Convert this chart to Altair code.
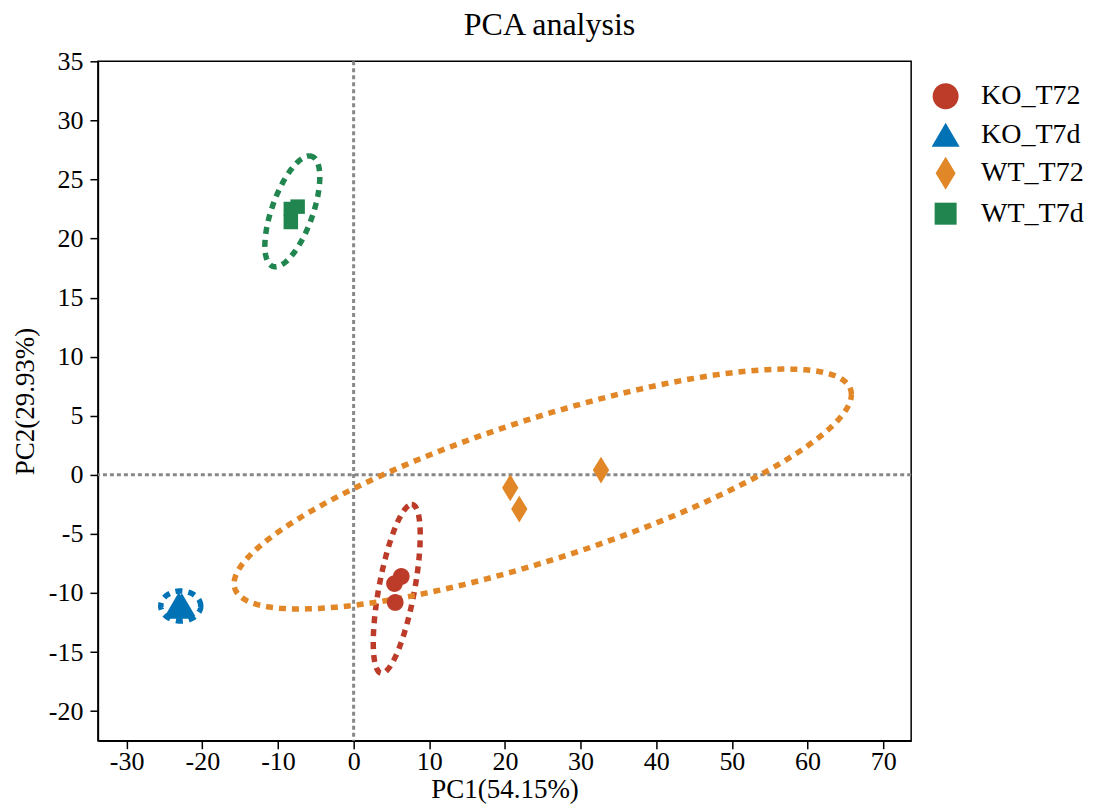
import altair as alt
import numpy as np
import pandas as pd

groups = ["KO_T72", "KO_T7d", "WT_T72", "WT_T7d"]
colors = ["#BC3C29", "#0072B5", "#E18727", "#20854E"]

# sample scores
ko_t72_pc1 = [6.3, 5.4, 5.5]
ko_t72_pc2 = [-8.6, -9.2, -10.8]
ko_t7d_pc1 = [-23.1, -22.7, -22.9]
ko_t7d_pc2 = [-10.9, -11.0, -11.2]
wt_t72_pc1 = [20.7, 21.9, 32.7]
wt_t72_pc2 = [-1.1, -2.9, 0.4]
wt_t7d_pc1 = [-8.3, -8.3, -7.4]
wt_t7d_pc2 = [22.5, 21.4, 22.7]

# confidence ellipses: centre and two conjugate semi-diameters (data units)
ell_cx = [5.7, -22.85, 25.0, -8.1]
ell_cy = [-9.65, -11.1, -1.2, 22.3]
ell_ax = [1.98, 2.64, 40.8, 2.25]
ell_ay = [7.14, 0.0, 8.0, 4.69]
ell_bx = [2.39, 0.0, 0.0, 2.85]
ell_by = [0.0, 1.27, 6.25, 0.0]

x_ticks = [-30, -20, -10, 0, 10, 20, 30, 40, 50, 60, 70]
y_ticks = [-20, -15, -10, -5, 0, 5, 10, 15, 20, 25, 30, 35]

pc1_all = [ko_t72_pc1, ko_t7d_pc1, wt_t72_pc1, wt_t7d_pc1]
pc2_all = [ko_t72_pc2, ko_t7d_pc2, wt_t72_pc2, wt_t7d_pc2]

rows = []
for g, xs, ys in zip(groups, pc1_all, pc2_all):
    for a, b in zip(xs, ys):
        rows.append({"group": g, "PC1": a, "PC2": b})
points = pd.DataFrame(rows)

t = np.linspace(0, 2 * np.pi, 241)
erows = []
for k, g in enumerate(groups):
    for i, tt in enumerate(t):
        erows.append({
            "group": g, "i": i,
            "PC1": ell_cx[k] + ell_ax[k] * np.cos(tt) + ell_bx[k] * np.sin(tt),
            "PC2": ell_cy[k] + ell_ay[k] * np.cos(tt) + ell_by[k] * np.sin(tt),
        })
ellipses = pd.DataFrame(erows)

shape_paths = [
    "M0.788,0A0.788,0.788,0,1,1,-0.788,0A0.788,0.788,0,1,1,0.788,0Z",
    "M0,-0.727L0.85,0.727L-0.85,0.727Z",
    "M0,-1L0.606,0L0,1L-0.606,0Z",
    "M-0.667,-0.667L0.667,-0.667L0.667,0.667L-0.667,0.667Z",
]

xscale = alt.Scale(domain=[-33.8, 73.7], nice=False, zero=False)
yscale = alt.Scale(domain=[-22.5, 35], nice=False, zero=False)
cscale = alt.Scale(domain=groups, range=colors)

xaxis = alt.Axis(values=x_ticks, title="PC1(54.15%)", labelExpr="datum.value + ''",
                 labelPadding=0, titlePadding=2)
yaxis = alt.Axis(values=y_ticks, title="PC2(29.93%)", labelExpr="datum.value + ''",
                 labelPadding=7, titlePadding=9)

vline = alt.Chart(pd.DataFrame({"v": [0]})).mark_rule(
    color="#888888", strokeWidth=3, strokeDash=[4, 3]
).encode(x=alt.X("v:Q", scale=xscale, axis=xaxis))

hline = alt.Chart(pd.DataFrame({"v": [0]})).mark_rule(
    color="#888888", strokeWidth=3, strokeDash=[4, 3]
).encode(y=alt.Y("v:Q", scale=yscale, axis=yaxis))

# stroke scale uses the data-derived (alphabetical) domain, so its hidden
# legend is not merged with the points' legend
ell = alt.Chart(ellipses).mark_line(
    strokeWidth=5.5, strokeDash=[7, 6], strokeCap="butt"
).encode(
    x=alt.X("PC1:Q", scale=xscale, axis=xaxis),
    y=alt.Y("PC2:Q", scale=yscale, axis=yaxis),
    stroke=alt.Stroke("group:N", scale=alt.Scale(range=colors), legend=None),
    detail="group:N",
    order="i:Q",
)

leg = alt.Legend(
    title=" ", titleFontSize=14, titlePadding=4.5, orient="right",
    labelFont="Liberation Serif", labelFontSize=28, labelColor="black",
    symbolSize=1089, symbolStrokeWidth=0, labelOffset=19,
    rowPadding=7.5, padding=0, offset=17.5, labelLimit=300,
)

pts = alt.Chart(points).mark_point(filled=True, opacity=1).transform_calculate(
    sz="datum.group == 'KO_T72' ? 450 : datum.group == 'KO_T7d' ? 1011 : datum.group == 'WT_T72' ? 729 : 473"
).encode(
    x=alt.X("PC1:Q", scale=xscale, axis=xaxis),
    y=alt.Y("PC2:Q", scale=yscale, axis=yaxis),
    color=alt.Color("group:N", scale=cscale, legend=leg),
    shape=alt.Shape("group:N", scale=alt.Scale(domain=groups, range=shape_paths), legend=leg),
    size=alt.Size("sz:Q", scale=None),
)

chart = alt.layer(vline, hline, ell, pts).properties(
    width=814,
    height=680,
    padding={"left": 3, "top": 1, "right": 2, "bottom": 2},
    title=alt.TitleParams(
        "PCA analysis", font="Liberation Serif", fontSize=32, fontWeight="normal",
        color="black", anchor="middle", frame="group", dx=45, offset=6,
    ),
).configure_view(
    stroke="black", strokeWidth=1.5
).configure_axis(
    labelFont="Liberation Serif", labelFontSize=26, labelColor="black",
    titleFont="Liberation Serif", titleFontSize=27, titleFontWeight="normal", titleColor="black",
    domainColor="black", domainWidth=1.5, tickColor="black", tickWidth=1.5, tickSize=8,
    grid=False,
)

chart.save("out.html", embed_options={"renderer": "svg", "actions": False})
